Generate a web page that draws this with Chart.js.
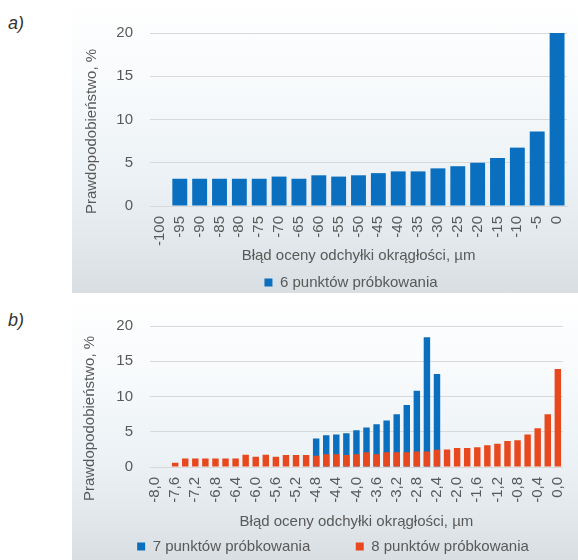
<!DOCTYPE html>
<html lang="pl">
<head>
<meta charset="utf-8">
<title>Błąd oceny odchyłki okrągłości</title>
<script src="https://cdn.jsdelivr.net/npm/chart.js@4/dist/chart.umd.min.js"></script>
<style>
  html, body { margin: 0; padding: 0; background: #ffffff; }
  body { position: relative; width: 578px; height: 560px; overflow: hidden;
         font-family: "Liberation Sans", Arial, sans-serif; }
  .tag { position: absolute; left: 8px; font-size: 18px; font-style: italic; color: #333333; }
  .panel { position: absolute; left: 72px; width: 506px;
           background: linear-gradient(to bottom, #ffffff 0%, #f6f9fb 35%, #ebf1f5 62%, #e3e9ed 80%, #d8dee1 100%); }
  .wrap { position: absolute; left: 72px; width: 506px; }
  canvas { display: block; }
</style>
</head>
<body>
<div class="tag" style="top:13px">a)</div>
<div class="panel" style="top:0; height:293px"></div>
<div class="wrap" style="top:0; height:300px"><canvas id="chartA" width="506" height="300"></canvas></div>

<div class="tag" style="top:310px">b)</div>
<div class="panel" style="top:298px; height:262px"></div>
<div class="wrap" style="top:300px; height:264px"><canvas id="chartB" width="506" height="264"></canvas></div>

<script>
// ---- chart a) : 6 sampling points ----
const errorsA = ['-100', '-95', '-90', '-85', '-80', '-75', '-70', '-65', '-60', '-55', '-50',
                 '-45', '-40', '-35', '-30', '-25', '-20', '-15', '-10', '-5', '0'];
const prob6 = [null, 3.15, 3.15, 3.15, 3.15, 3.15, 3.4, 3.15, 3.55, 3.4, 3.55,
               3.8, 4.0, 4.0, 4.35, 4.6, 5.0, 5.55, 6.75, 8.6, 20.0];

// ---- chart b) : 7 and 8 sampling points ----
const errorsB = ['-8,0', '-7,8', '-7,6', '-7,4', '-7,2', '-7,0', '-6,8', '-6,6', '-6,4', '-6,2',
                 '-6,0', '-5,8', '-5,6', '-5,4', '-5,2', '-5,0', '-4,8', '-4,6', '-4,4', '-4,2',
                 '-4,0', '-3,8', '-3,6', '-3,4', '-3,2', '-3,0', '-2,8', '-2,6', '-2,4', '-2,2',
                 '-2,0', '-1,8', '-1,6', '-1,4', '-1,2', '-1,0', '-0,8', '-0,6', '-0,4', '-0,2', '0,0'];
const prob7 = [null, null, null, null, null, null, null, null, null, null,
               null, null, null, null, null, null, 4.05, 4.5, 4.6, 4.8,
               5.2, 5.6, 6.05, 6.6, 7.5, 8.8, 10.8, 18.4, 13.2, null,
               null, null, null, null, null, null, null, null, null, null, null];
const prob8 = [null, null, 0.6, 1.2, 1.2, 1.2, 1.2, 1.2, 1.2, 1.75,
               1.45, 1.75, 1.45, 1.7, 1.7, 1.7, 1.6, 1.8, 1.8, 1.7,
               1.8, 2.1, 1.8, 2.1, 2.1, 2.1, 2.2, 2.2, 2.45, 2.5,
               2.7, 2.7, 2.8, 3.1, 3.3, 3.7, 3.8, 4.6, 5.5, 7.5, 13.9];

const yTicks = { min: 0, max: 20, step: 5 };
const yTitle = 'Prawdopodobieństwo, %';
const xTitle = 'Błąd oceny odchyłki okrągłości, µm';

const BLUE = '#0a6fbe';
const RED = '#e8481d';
const TEXT = '#595959';
const GRID = '#d9d9d9';
const FONT = { family: '"Liberation Sans", Arial, sans-serif', size: 15 };

Chart.defaults.font.family = FONT.family;
Chart.defaults.font.size = FONT.size;
Chart.defaults.color = TEXT;

// rotated y-axis caption, centred a little below the middle of the plot
const sideTitle = {
  id: 'sideTitle',
  afterDraw(chart, args, opts) {
    const { ctx, chartArea } = chart;
    ctx.save();
    ctx.font = FONT.size + 'px ' + FONT.family;
    ctx.fillStyle = TEXT;
    ctx.textAlign = 'center';
    ctx.textBaseline = 'middle';
    ctx.translate(opts.x, (chartArea.top + chartArea.bottom) / 2 + opts.shift);
    ctx.rotate(-Math.PI / 2);
    ctx.fillText(opts.text, 0, 0);
    ctx.restore();
  }
};

function yScale(width) {
  return {
    min: yTicks.min, max: yTicks.max,
    stacked: false,
    ticks: { stepSize: yTicks.step, padding: 17, color: TEXT, font: FONT },
    grid: { color: GRID, lineWidth: 1, drawTicks: false },
    border: { display: false },
    afterFit(s) { s.width = width; }
  };
}

function xScale(height, every, stacked) {
  return {
    stacked: stacked,
    grid: { display: false },
    border: { color: GRID },
    ticks: {
      minRotation: 90, maxRotation: 90, autoSkip: false, padding: 2,
      color: TEXT, font: FONT,
      callback(value, index) { return index % every === 0 ? this.getLabelForValue(value) : ''; }
    },
    title: { display: true, text: xTitle, color: TEXT, font: FONT, padding: 0 },
    afterFit(s) { s.height = height; }
  };
}

new Chart(document.getElementById('chartA'), {
  type: 'bar',
  data: {
    labels: errorsA,
    datasets: [{
      label: '6 punktów próbkowania\u2003',
      data: prob6,
      backgroundColor: BLUE,
      borderWidth: 0,
      barPercentage: 0.75,
      categoryPercentage: 1.0
    }]
  },
  options: {
    responsive: false,
    animation: false,
    layout: { padding: { top: 33, left: 30, right: 11, bottom: 0 } },
    scales: { x: xScale(59, 1, false), y: yScale(48) },
    plugins: {
      legend: {
        position: 'bottom',
        fullSize: false,
        labels: { boxWidth: 8, boxHeight: 8, padding: 10, color: TEXT, font: FONT }
      },
      tooltip: { enabled: false },
      sideTitle: { text: yTitle, x: 20, shift: 12 }
    }
  },
  plugins: [sideTitle]
});

new Chart(document.getElementById('chartB'), {
  type: 'bar',
  data: {
    labels: errorsB,
    datasets: [{
      label: '7 punktów próbkowania\u2003\u2003\u2002',
      data: prob7,
      backgroundColor: BLUE,
      borderWidth: 0,
      order: 2,
      barPercentage: 0.64,
      categoryPercentage: 1.0
    }, {
      label: '8 punktów próbkowania',
      data: prob8,
      backgroundColor: RED,
      borderWidth: 0,
      order: 1,
      barPercentage: 0.64,
      categoryPercentage: 1.0
    }]
  },
  options: {
    responsive: false,
    animation: false,
    layout: { padding: { top: 21, left: 30, right: 14, bottom: 0 } },
    scales: { x: xScale(64, 2, true), y: yScale(48) },
    plugins: {
      legend: {
        position: 'bottom',
        labels: {
          boxWidth: 8, boxHeight: 8, padding: 8, color: TEXT, font: FONT,
          sort: (a, b) => a.datasetIndex - b.datasetIndex
        }
      },
      tooltip: { enabled: false },
      sideTitle: { text: yTitle, x: 18, shift: 22 }
    }
  },
  plugins: [sideTitle]
});
</script>
</body>
</html>
